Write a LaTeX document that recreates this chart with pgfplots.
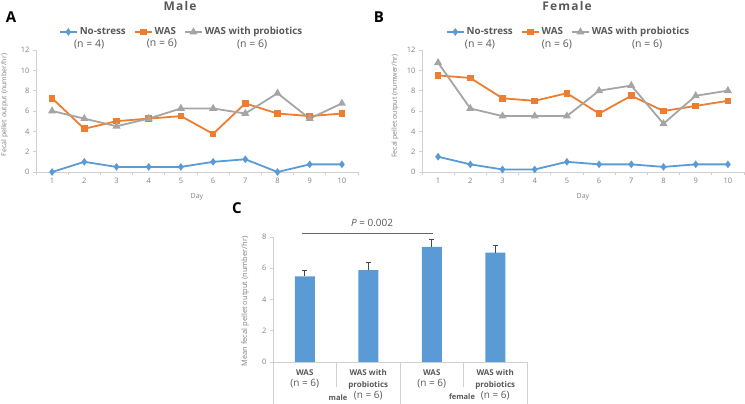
\documentclass[border=0pt]{standalone}
\usepackage{pgfplots}
\pgfplotsset{compat=1.18}
\usepackage{fontspec}
\setmainfont{Open Sans}
\definecolor{cblue}{HTML}{5B9BD5}
\definecolor{corange}{HTML}{ED7D31}
\definecolor{cgray}{HTML}{A5A5A5}
\definecolor{txt}{HTML}{595959}
\definecolor{tickc}{HTML}{808080}
\definecolor{axl}{HTML}{D0D0D0}
\tikzset{nlab/.style={font=\fontsize{10.5}{11}\selectfont, text=txt}}
\newcommand{\nsix}{{\fontsize{10}{11.5}\selectfont (n = 6)}}
\pgfplotsset{
  linepanel/.style={
    scale only axis, anchor=south west, width=322pt, height=122pt,
    xmin=0.5, xmax=10.5, ymin=0, ymax=12,
    xtick={1,...,10}, ytick={0,2,...,12},
    minor xtick={0.5,1.5,...,10.5},
    axis x line*=bottom, axis y line*=left,
    axis line style={-, draw=axl, line width=0.7pt},
    tick align=outside,
    major tick length=3pt, minor tick length=3pt,
    major x tick style={draw=none},
    major y tick style={draw=axl, line width=0.7pt},
    minor tick style={draw=axl, line width=0.7pt},
    tick label style={font=\fontsize{7.5}{8}\selectfont, text=tickc},
    /pgf/number format/assume math mode=true,
    xlabel={Day},
    xlabel style={font=\fontsize{7}{8}\selectfont, text=tickc, at={(axis description cs:0.5,-0.205)}, anchor=center},
    ylabel style={font=\fontsize{7}{8}\selectfont, text=tickc, anchor=center},
    legend columns=3,
    legend style={draw=none, fill=none, font=\bfseries\fontsize{9.8}{12}\selectfont, text=txt, anchor=center,
      /tikz/every even column/.append style={column sep=6pt}},
    legend cell align=left,
    clip=false,
  },
  nsline/.style={color=cblue, line width=1.8pt, mark=diamond*, mark size=2.4pt, mark options={solid}},
  wasline/.style={color=corange, line width=1.8pt, mark=square*, mark size=2.4pt, mark options={solid}},
  proline/.style={color=cgray, line width=1.8pt, mark=triangle*, mark size=2.9pt, mark options={solid}},
}
\begin{document}
\begin{tikzpicture}
\path[use as bounding box] (0pt,0pt) rectangle (745pt,404pt);

% ---------- Panel A ----------
\begin{axis}[linepanel, at={(36pt,232pt)},
  ylabel={Fecal pellet output (number/hr)},
  ylabel style={at={(axis description cs:-0.098,0.549)}},
  legend style={at={(axis description cs:0.452,1.148)}}]
\addplot[nsline] coordinates {(1,0) (2,1) (3,0.5) (4,0.5) (5,0.5) (6,1) (7,1.25) (8,0) (9,0.75) (10,0.75)};
\addlegendentry{No-stress}
\addplot[wasline] coordinates {(1,7.25) (2,4.25) (3,5.0) (4,5.25) (5,5.5) (6,3.75) (7,6.75) (8,5.75) (9,5.5) (10,5.75)};
\addlegendentry{WAS}
\addplot[proline] coordinates {(1,6.0) (2,5.25) (3,4.5) (4,5.25) (5,6.25) (6,6.25) (7,5.75) (8,7.75) (9,5.25) (10,6.75)};
\addlegendentry{WAS with probiotics}
\node[nlab] at (axis description cs:0.165,1.045) {(n = 4)};
\node[nlab] at (axis description cs:0.391,1.053) {(n = 6)};
\node[nlab] at (axis description cs:0.671,1.045) {(n = 6)};
\end{axis}

% ---------- Panel B ----------
\begin{axis}[linepanel, at={(422pt,232pt)},
  ylabel={Fecal pellet output (numwer/hr)},
  ylabel style={at={(axis description cs:-0.084,0.54)}},
  legend style={at={(axis description cs:0.455,1.148)}}]
\addplot[nsline] coordinates {(1,1.5) (2,0.75) (3,0.25) (4,0.25) (5,1.0) (6,0.75) (7,0.75) (8,0.5) (9,0.75) (10,0.75)};
\addlegendentry{No-stress}
\addplot[wasline] coordinates {(1,9.5) (2,9.25) (3,7.25) (4,7.0) (5,7.75) (6,5.75) (7,7.5) (8,6.0) (9,6.5) (10,7.0)};
\addlegendentry{WAS}
\addplot[proline] coordinates {(1,10.75) (2,6.25) (3,5.5) (4,5.5) (5,5.5) (6,8.0) (7,8.5) (8,4.75) (9,7.5) (10,8.0)};
\addlegendentry{WAS with probiotics}
\node[nlab] at (axis description cs:0.18,1.045) {(n = 4)};
\node[nlab] at (axis description cs:0.419,1.045) {(n = 6)};
\node[nlab] at (axis description cs:0.699,1.045) {(n = 6)};
\end{axis}

% ---------- Panel C ----------
\begin{axis}[at={(273pt,42pt)}, anchor=south west, scale only axis, width=254pt, height=125pt,
  xmin=-0.5, xmax=3.5, ymin=0, ymax=8, ytick={0,2,...,8},
  xtick={0,1,2,3},
  xticklabels={{\textbf{WAS}\\\nsix}, {\textbf{WAS with}\\\textbf{probiotics}\\\nsix}, {\textbf{WAS}\\\nsix}, {\textbf{WAS with}\\\textbf{probiotics}\\\nsix}},
  x tick label style={align=center, anchor=north, font=\fontsize{8}{11.5}\selectfont, text=txt, yshift=-1pt},
  y tick label style={font=\fontsize{7.5}{8}\selectfont, text=tickc},
  /pgf/number format/assume math mode=true,
  axis x line*=bottom, axis y line*=left,
  axis line style={-, draw=axl, line width=0.7pt},
  tick align=outside, major tick length=3pt,
  major x tick style={draw=none},
  major y tick style={draw=axl, line width=0.7pt},
  ylabel={Mean fecal pellet output (number/hr)},
  ylabel style={font=\fontsize{7.5}{8}\selectfont, text=tickc, at={(axis description cs:-0.110,0.484)}, anchor=center},
  ybar, bar width=20pt, clip=false]
\addplot[fill=cblue, draw=none,
  error bars/.cd, y dir=plus, y explicit,
  error bar style={draw=black!70, line width=0.6pt},
  error mark options={draw=black!70, line width=0.6pt, mark size=2.5pt, rotate=90}]
  coordinates {(0,5.48) +- (0,0.42) (1,5.88) +- (0,0.47) (2,7.36) +- (0,0.49) (3,7.0) +- (0,0.46)};
\draw[axl, line width=0.7pt] (axis cs:-0.5,0) -- ++(0pt,-42pt);
\draw[axl, line width=0.7pt] (axis cs:0.5,0) -- ++(0pt,-25pt);
\draw[axl, line width=0.7pt] (axis cs:1.5,0) -- ++(0pt,-42pt);
\draw[axl, line width=0.7pt] (axis cs:2.5,0) -- ++(0pt,-25pt);
\draw[axl, line width=0.7pt] (axis cs:3.5,0) -- ++(0pt,-42pt);
\node[font=\bfseries\fontsize{7.5}{8}\selectfont, text=txt] at (axis description cs:0.256,-0.288) {male};
\node[font=\bfseries\fontsize{7.5}{8}\selectfont, text=txt] at (axis description cs:0.744,-0.280) {female};
\draw[black!60, line width=0.7pt] (axis cs:-0.04,8.26) -- (axis cs:2.02,8.26);
\node[font=\fontsize{10}{11}\selectfont, text=txt] at (axis cs:1.06,8.9) {\textit{P} = 0.002};
\end{axis}

% panel letters and titles
\node[font=\bfseries\fontsize{15}{15}\selectfont] at (11pt,387pt) {A};
\node[font=\bfseries\fontsize{15}{15}\selectfont] at (379pt,387pt) {B};
\node[font=\bfseries\fontsize{15}{15}\selectfont] at (237pt,196pt) {C};
\node[font=\bfseries\fontsize{12}{12}\selectfont\addfontfeatures{LetterSpace=10}, text=txt] at (180pt,398pt) {Male};
\node[font=\bfseries\fontsize{12}{12}\selectfont\addfontfeatures{LetterSpace=10}, text=txt] at (567pt,398pt) {Female};
\end{tikzpicture}
\end{document}
